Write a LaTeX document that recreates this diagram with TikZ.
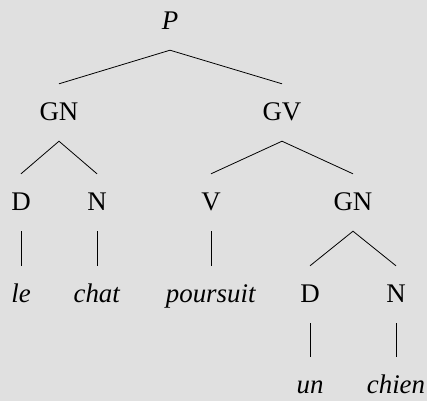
\documentclass[tikz,border=0pt]{standalone}
\usepackage{fontspec}
\setmainfont{Liberation Serif}
\definecolor{bgc}{HTML}{E0E0E0}
\begin{document}
\begin{tikzpicture}[x=1bp,y=-1bp,
  lbl/.style={anchor=base,inner xsep=0pt,inner ysep=16bp,text height=20bp,text depth=5bp,font=\fontsize{27}{32}\selectfont},
  br/.style={line width=0.8pt,black}]
\path[use as bounding box,fill=bgc] (0,0) rectangle (427,401);
\node[lbl] (P) at (170,29) {\textit{P}};
\node[lbl] (GN) at (59,120) {GN};
\node[lbl] (GV) at (282,120) {GV};
\node[lbl] (D) at (21,210) {D};
\node[lbl] (N) at (97,210) {N};
\node[lbl] (V) at (211,210) {V};
\node[lbl] (GNb) at (353,210) {GN};
\node[lbl] (le) at (21,302) {\textit{le}};
\node[lbl] (chat) at (97,302) {\textit{chat}};
\node[lbl] (poursuit) at (211,302) {\textit{poursuit}};
\node[lbl] (Db) at (310,302) {D};
\node[lbl] (Nb) at (396,302) {N};
\node[lbl] (un) at (310,393) {\textit{un}};
\node[lbl] (chien) at (396,393) {\textit{chien}};
\draw[br] (GN.north) -- (P.south) -- (GV.north);
\draw[br] (D.north) -- (GN.south) -- (N.north);
\draw[br] (V.north) -- (GV.south) -- (GNb.north);
\draw[br] (D.south) -- (le.north);
\draw[br] (N.south) -- (chat.north);
\draw[br] (V.south) -- (poursuit.north);
\draw[br] (Db.north) -- (GNb.south) -- (Nb.north);
\draw[br] (Db.south) -- (un.north);
\draw[br] (Nb.south) -- (chien.north);
\end{tikzpicture}
\end{document}
